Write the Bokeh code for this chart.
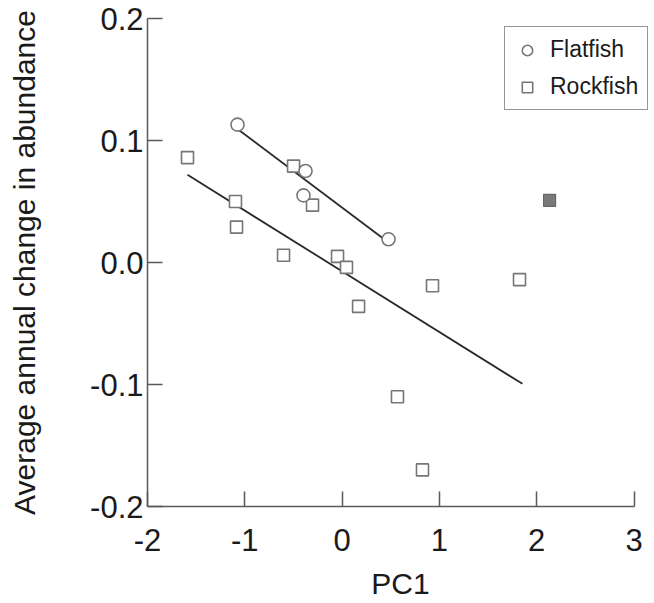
import numpy as np
from bokeh.plotting import figure
from bokeh.models import FixedTicker, PrintfTickFormatter, Legend, LegendItem
from bokeh.embed import file_html
from bokeh.resources import INLINE

# ---- data ----
flat_x = [-1.075, -0.376, -0.397, 0.477]
flat_y = [0.113, 0.075, 0.055, 0.019]

rock_x = [-1.589, -1.096, -1.085, -0.499, -0.304, -0.602, -0.047, 0.045, 0.929, 1.823, 0.169, 0.569, 0.826]
rock_y = [0.086, 0.050, 0.029, 0.079, 0.047, 0.006, 0.005, -0.004, -0.019, -0.014, -0.036, -0.110, -0.170]

outlier_x = [2.132]
outlier_y = [0.051]

x_ticks = [-2, -1, 0, 1, 2, 3]
y_ticks = [-0.2, -0.1, 0.0, 0.1, 0.2]

FONT = "Liberation Sans"
MARK = "#767676"

p = figure(frame_width=506, frame_height=488, min_border_left=147, min_border_top=18,
           min_border_bottom=88, min_border_right=0,
           x_range=(-2, 3.2), y_range=(-0.2, 0.2),
           output_backend="svg", toolbar_location=None)
p.outline_line_color = None
p.grid.grid_line_color = None

# regression lines
fx = np.array(flat_x); fy = np.array(flat_y)
m1, b1 = np.polyfit(fx, fy, 1)
lx1 = np.array([fx.min(), fx.max()])
p.line(lx1, m1 * lx1 + b1, line_color="#2b2b2b", line_width=1.8)

rx = np.array(rock_x); ry = np.array(rock_y)
m2, b2 = np.polyfit(rx, ry, 1)
lx2 = np.array([rx.min(), rx.max() + 0.03])
p.line(lx2, m2 * lx2 + b2, line_color="#2b2b2b", line_width=1.8)

sq = p.scatter(rock_x, rock_y, marker="square", size=12, line_color=MARK, line_width=1.6,
               fill_color="white")
ci = p.scatter(flat_x, flat_y, marker="circle", size=13, line_color=MARK, line_width=1.6,
               fill_color="white")
p.scatter(outlier_x, outlier_y, marker="square", size=12, line_color="#666666", line_width=1.2,
          fill_color="#7a7a7a")

legend = Legend(items=[LegendItem(label="Flatfish", renderers=[ci]),
                       LegendItem(label="Rockfish", renderers=[sq])],
                location=(357, 396))
legend.label_text_font = FONT
legend.label_text_font_size = "23px"
legend.label_text_color = "#1a1a1a"
legend.border_line_color = "#2b2b2b"
legend.border_line_width = 1.5
legend.background_fill_alpha = 1
legend.padding = 9
legend.spacing = 10
legend.glyph_width = 26
legend.glyph_height = 26
legend.label_standoff = 10
legend.margin = 0
p.add_layout(legend, "center")

for ax in (p.xaxis[0], p.yaxis[0]):
    ax.axis_line_color = "#5a5a5a"
    ax.axis_line_width = 1.5
    ax.major_tick_line_color = "#5a5a5a"
    ax.major_tick_line_width = 1.5
    ax.major_tick_in = 15
    ax.major_tick_out = 0
    ax.minor_tick_line_color = None
    ax.major_label_text_font = FONT
    ax.major_label_text_font_size = "31px"
    ax.major_label_text_color = "#1a1a1a"
    ax.axis_label_text_font = FONT
    ax.axis_label_text_font_size = "30px"
    ax.axis_label_text_font_style = "normal"
    ax.axis_label_text_color = "#1a1a1a"

p.xaxis.bounds = (-2, 3)
p.xaxis.ticker = FixedTicker(ticks=x_ticks)
p.yaxis.ticker = FixedTicker(ticks=y_ticks)
p.xaxis.formatter = PrintfTickFormatter(format="%d")
p.yaxis.formatter = PrintfTickFormatter(format="%.1f")
p.xaxis.axis_label = "PC1"
p.yaxis.axis_label = "Average annual change in abundance"
p.xaxis.major_label_standoff = 22
p.yaxis.major_label_standoff = 4
p.xaxis.axis_label_standoff = 13
p.yaxis.axis_label_standoff = 46

open("out.html", "w").write(file_html(p, INLINE))
